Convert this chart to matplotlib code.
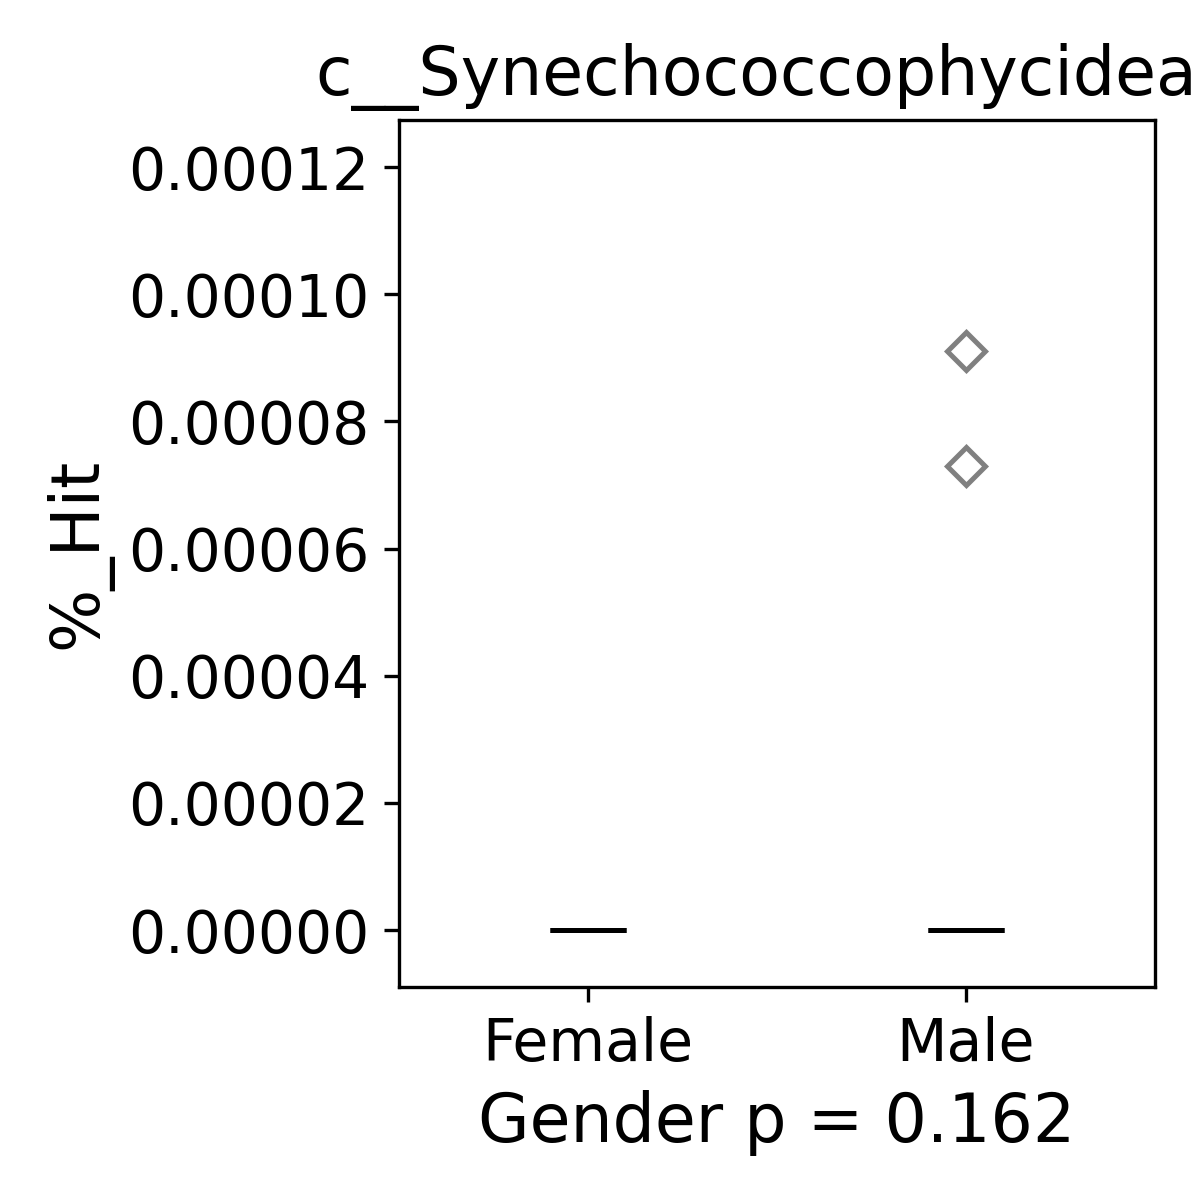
import numpy as np
import matplotlib
matplotlib.use("Agg")
import matplotlib.pyplot as plt

groups = ["Female", "Male"]
female_hit = [0.0] * 12
male_hit = [0.0] * 12 + [0.0000910, 0.0000730]
p_value = 0.162
taxon = "c__Synechococcophycideae"

fig = plt.figure(figsize=(4, 4), dpi=300)
ax = fig.add_axes([0.3325, 0.1775, 0.63, 0.7225])

bp = ax.boxplot([female_hit, male_hit], positions=[0, 1], widths=0.2,
                patch_artist=True,
                boxprops=dict(facecolor="white", edgecolor="black", linewidth=1.2),
                medianprops=dict(color="black", linewidth=1.2),
                whiskerprops=dict(color="black", linewidth=1.2),
                capprops=dict(color="black", linewidth=1.2),
                flierprops=dict(marker="D", markerfacecolor="white",
                                markeredgecolor="gray", markersize=6.5,
                                markeredgewidth=1.2))

ax.set_xlim(-0.5, 1.5)
ax.set_ylim(-0.00000896, 0.0001274)
ax.set_xticks([0, 1])
ax.set_xticklabels(groups)
ax.set_yticks(np.arange(0, 0.000121, 0.00002))
ax.yaxis.set_major_formatter(matplotlib.ticker.FormatStrFormatter("%.5f"))
ax.tick_params(labelsize=14)
ax.set_ylabel("%_Hit", fontsize=16)
ax.set_xlabel("Gender p = %.3f" % p_value, fontsize=16)
ax.set_title(taxon, fontsize=16)

fig.savefig("out.png", dpi=300)
